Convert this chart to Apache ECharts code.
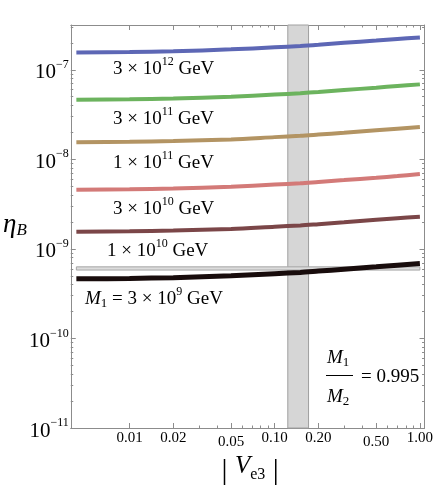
<!DOCTYPE html>
<html lang="en">
<head>
  <meta charset="UTF-8">
  <title>eta_B vs |Ve3|</title>
  <style>
    body, html { margin: 0; padding: 0; background: #fff; }
    #main { width: 436px; height: 491px; }
  </style>
</head>
<body>
  <div id="main"></div>
</body>
<script src="https://cdn.jsdelivr.net/npm/echarts@6/dist/echarts.min.js"></script>
<script>
  // |Ve3| sample points
  var ve3 = [0.0043, 0.01, 0.02, 0.05, 0.1, 0.15, 0.2, 0.3, 0.5, 0.7, 1.0];

  // eta_B for each M1
  var eta3e12 = [1.56e-7, 1.58e-7, 1.61e-7, 1.69e-7, 1.78e-7, 1.84e-7, 1.90e-7, 2.00e-7, 2.12e-7, 2.21e-7, 2.29e-7];
  var eta3e11 = [4.64e-8, 4.69e-8, 4.78e-8, 5.01e-8, 5.29e-8, 5.48e-8, 5.66e-8, 5.94e-8, 6.31e-8, 6.59e-8, 6.87e-8];
  var eta1e11 = [1.55e-8, 1.57e-8, 1.60e-8, 1.67e-8, 1.77e-8, 1.83e-8, 1.89e-8, 1.98e-8, 2.11e-8, 2.20e-8, 2.30e-8];
  var eta3e10 = [4.58e-9, 4.63e-9, 4.72e-9, 4.95e-9, 5.22e-9, 5.40e-9, 5.59e-9, 5.86e-9, 6.23e-9, 6.50e-9, 6.86e-9];
  var eta1e10 = [1.55e-9, 1.57e-9, 1.60e-9, 1.67e-9, 1.77e-9, 1.83e-9, 1.89e-9, 1.98e-9, 2.11e-9, 2.20e-9, 2.28e-9];
  var eta3e9  = [4.63e-10, 4.68e-10, 4.77e-10, 5.00e-10, 5.28e-10, 5.46e-10, 5.65e-10, 5.93e-10, 6.30e-10, 6.57e-10, 6.86e-10];

  var curveNames = ['3e12', '3e11', '1e11', '3e10', '1e10', '3e9'];
  var curveColors = ['#5d67b5', '#6cb35e', '#b39463', '#d37a78', '#7b4648', '#180c0c'];
  var curveWidths = [4, 4, 4, 4, 4, 5];

  // observed eta_B strip and the shaded |Ve3| band
  var etaObs = [5.8e-10, 6.3e-10];
  var ve3Band = [0.123, 0.171];

  // ticks
  var xMajor = [0.01, 0.02, 0.05, 0.1, 0.2, 0.5, 1.0];
  var xMinor = [0.03, 0.04, 0.06, 0.07, 0.08, 0.09, 0.3, 0.4, 0.6, 0.7, 0.8, 0.9];
  var yMajor = [-11, -10, -9, -8, -7];       // decades
  var yMinorMult = [2, 3, 4, 5, 6, 7, 8, 9];

  var xLogRange = [-2.405, 0.032];
  var yLogRange = [-11, -6.5];

  var serif = 'Liberation Serif';
  var frame = '#8c8c8c';

  var log10 = function (v) { return Math.log(v) / Math.LN10; };
  var yMinor = [];
  yMajor.forEach(function (d) {
    yMinorMult.forEach(function (m) {
      var v = d + log10(m);
      if (v < yLogRange[1]) yMinor.push(v);
    });
  });

  var myChart = echarts.init(document.getElementById('main'));

  function tickX(pos, values, len, lineShow, label) {
    return {
      type: 'value', position: pos, min: xLogRange[0], max: xLogRange[1],
      axisLine: { show: lineShow, onZero: false, lineStyle: { color: frame } },
      axisTick: { show: true, inside: true, length: len, customValues: values, lineStyle: { color: frame } },
      axisLabel: label || { show: false },
      splitLine: { show: false }
    };
  }
  function tickY(pos, values, len, lineShow, label) {
    return {
      type: 'value', position: pos, min: yLogRange[0], max: yLogRange[1],
      axisLine: { show: lineShow, onZero: false, lineStyle: { color: frame } },
      axisTick: { show: true, inside: true, length: len, customValues: values, lineStyle: { color: frame } },
      axisLabel: label || { show: false },
      splitLine: { show: false }
    };
  }

  var xMajorLog = xMajor.map(log10);
  var xLabel = {
    customValues: xMajorLog,
    margin: 3,
    formatter: function (v) {
      var s = Math.pow(10, v).toFixed(2);
      return (s === '0.05' || s === '0.50') ? '{lo|' + s + '}' : '{n|' + s + '}';
    },
    rich: {
      n: { fontFamily: serif, fontSize: 15, color: '#000' },
      lo: { fontFamily: serif, fontSize: 15, color: '#000', padding: [4, 0, 0, 0] }
    }
  };
  var yLabel = {
    customValues: yMajor,
    margin: 2,
    padding: [6, 0, 0, 0],
    formatter: function (v) {
      return '{n|10}{s|\u2212' + Math.round(-v) + '}';
    },
    rich: {
      n: { fontFamily: serif, fontSize: 21, verticalAlign: 'middle', color: '#000' },
      s: { fontFamily: serif, fontSize: 12, verticalAlign: 'middle', padding: [0, 0, 16, 0], color: '#000' }
    }
  };

  var series = [
    {
      name: 'band', type: 'line', data: [], z: 1, silent: true,
      markArea: {
        silent: true,
        itemStyle: { color: '#d6d6d6', borderColor: '#a0a0a0', borderWidth: 1 },
        data: [[{ xAxis: ve3Band[0], yAxis: Math.pow(10, yLogRange[0]) },
                { xAxis: ve3Band[1], yAxis: Math.pow(10, yLogRange[1]) }]]
      }
    },
    {
      name: 'obs', type: 'line', data: [], z: 2, silent: true,
      markArea: {
        silent: true,
        itemStyle: { color: '#dcdcdc', borderColor: '#a6a6a6', borderWidth: 1 },
        data: [[{ xAxis: ve3[0], yAxis: etaObs[0] },
                { xAxis: ve3[ve3.length - 1], yAxis: etaObs[1] }]]
      }
    }
  ];
  [eta3e12, eta3e11, eta1e11, eta3e10, eta1e10, eta3e9].forEach(function (arr, i) {
    series.push({
      name: curveNames[i], type: 'line', z: 3,
      smooth: 0.3, symbol: 'none',
      lineStyle: { color: curveColors[i], width: curveWidths[i], cap: 'butt' },
      data: ve3.map(function (x, k) { return [x, arr[k]]; })
    });
  });

  // text labels on the plot; sup/sub are shifted with padding
  var rich = {
    n: { fontFamily: serif, fontSize: 19, verticalAlign: 'middle', fill: '#000' },
    s: { fontFamily: serif, fontSize: 12, verticalAlign: 'middle', padding: [0, 0, 14, 0], fill: '#000' },
    m: { fontFamily: serif, fontSize: 19, fontStyle: 'italic', verticalAlign: 'middle', fill: '#000' },
    sub: { fontFamily: serif, fontSize: 13, verticalAlign: 'middle', padding: [10, 0, 0, 0], fill: '#000' }
  };
  function txt(x, y, text) {
    return { type: 'text', x: x, y: y, z: 10, style: { text: text, rich: rich, align: 'left', verticalAlign: 'middle' } };
  }

  var option = {
    animation: false,
    grid: { left: 69, right: 8, top: 25, bottom: 62 },
    xAxis: [
      {
        type: 'log', logBase: 10, position: 'bottom',
        min: Math.pow(10, xLogRange[0]), max: Math.pow(10, xLogRange[1]),
        axisLine: { show: true, onZero: false, lineStyle: { color: frame } },
        axisTick: { show: false }, axisLabel: { show: false }, splitLine: { show: false },
        name: '{bar|| }{v|V}{sub|e3}{bar| |}',
        nameLocation: 'middle', nameGap: 18,
        nameTextStyle: {
          padding: [0, 0, 0, 5],
          rich: {
            bar: { fontFamily: serif, fontSize: 30, verticalAlign: 'middle', padding: [10, 0, 0, 0], color: '#000' },
            v: { fontFamily: serif, fontSize: 25, fontStyle: 'italic', verticalAlign: 'middle', color: '#000' },
            sub: { fontFamily: serif, fontSize: 16, verticalAlign: 'middle', padding: [18, 0, 0, 0], color: '#000' }
          }
        }
      },
      tickX('bottom', xMajorLog, 5, false, xLabel),
      tickX('bottom', xMinor.map(log10), 2.5, false),
      tickX('top', xMajorLog, 5, true),
      tickX('top', xMinor.map(log10), 2.5, false)
    ],
    yAxis: [
      {
        type: 'log', logBase: 10, position: 'left',
        min: Math.pow(10, yLogRange[0]), max: Math.pow(10, yLogRange[1]),
        axisLine: { show: true, onZero: false, lineStyle: { color: frame } },
        axisTick: { show: false }, axisLabel: { show: false }, splitLine: { show: false },
        name: '{e|\u03B7}{b|B}',
        nameLocation: 'middle', nameRotate: 0, nameGap: 44,
        nameTextStyle: {
          padding: [0, 0, 4, 0],
          rich: {
            e: { fontFamily: serif, fontSize: 27, fontStyle: 'italic', verticalAlign: 'middle', color: '#000' },
            b: { fontFamily: serif, fontSize: 17, fontStyle: 'italic', verticalAlign: 'middle', padding: [12, 0, 0, 0], color: '#000' }
          }
        }
      },
      tickY('left', yMajor, 5, false, yLabel),
      tickY('left', yMinor, 2.5, false),
      tickY('right', yMajor, 5, true),
      tickY('right', yMinor, 2.5, false)
    ],
    series: series,
    graphic: [
      txt(113, 69, '{n|3 \u00D7 10}{s|12}{n| GeV}'),
      txt(113, 119, '{n|3 \u00D7 10}{s|11}{n| GeV}'),
      txt(113, 163, '{n|1 \u00D7 10}{s|11}{n| GeV}'),
      txt(113, 209, '{n|3 \u00D7 10}{s|10}{n| GeV}'),
      txt(107, 251, '{n|1 \u00D7 10}{s|10}{n| GeV}'),
      txt(85, 299, '{m|M}{sub|1}{n| = 3 \u00D7 10}{s|9}{n| GeV}'),
      txt(327, 358, '{m|M}{sub|1}'),
      txt(327, 397, '{m|M}{sub|2}'),
      txt(361, 377, '{n|= 0.995}'),
      { type: 'line', z: 10, shape: { x1: 326, y1: 375.5, x2: 353, y2: 375.5 }, style: { stroke: '#000', lineWidth: 1 } }
    ]
  };

  myChart.setOption(option);
</script>
</html>
